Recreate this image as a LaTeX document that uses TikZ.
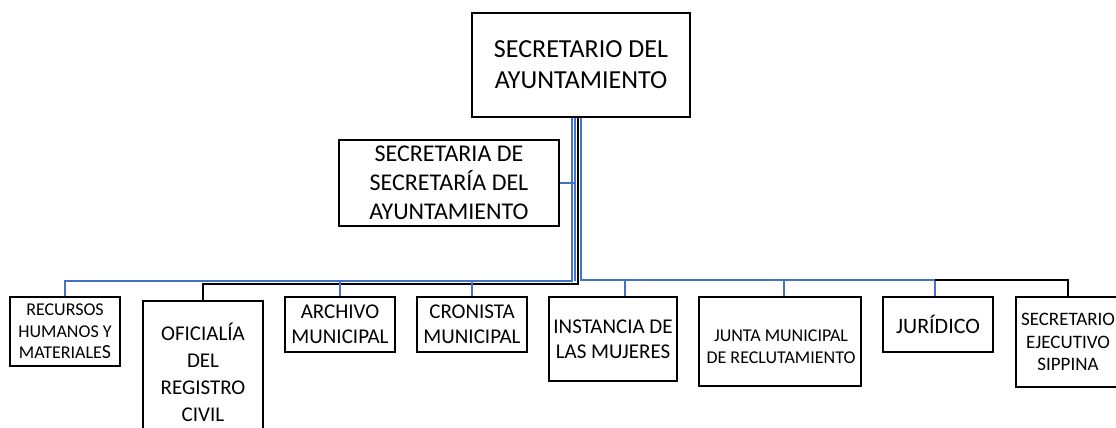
\documentclass[tikz,border=0pt]{standalone}
\usepackage{fontspec}
\setmainfont{Carlito}
\definecolor{linkblue}{HTML}{4472C4}
\tikzset{
  box/.style={draw, line width=2pt, align=center, inner sep=0pt},
  bluelink/.style={draw=linkblue, line width=1.5pt},
  blacklink/.style={draw=black, line width=2pt},
}
\newcommand{\fs}[1]{\fontsize{#1}{1.2\dimexpr#1pt\relax}\selectfont}
\begin{document}
\begin{tikzpicture}[x=1pt,y=-1pt]
  \useasboundingbox (0,0) rectangle (1116,428);
  \clip (0,0) rectangle (1116,428);

  \node[box, minimum width=218pt, minimum height=104pt, font=\fs{26}] (top) at (581,65) {SECRETARIO DEL\\AYUNTAMIENTO};
  \node[box, minimum width=220pt, minimum height=86pt, font=\fs{24}] (sec) at (449,183) {SECRETARIA DE\\SECRETARÍA DEL\\AYUNTAMIENTO};

  \node[box, minimum width=110pt, minimum height=69pt, font=\fs{18}] (rh) at (65,331.5) {RECURSOS\\HUMANOS Y\\MATERIALE{\fs{20}S}};
  \node[box, minimum width=120pt, minimum height=142pt, font=\fontsize{21}{27}\selectfont] (ofi) at (203,372) {OFICIALÍA\\DEL\\REGISTRO\\CIVIL};
  \node[box, minimum width=110pt, minimum height=55pt, font=\fs{21}] (arch) at (340,324.5) {ARCHIVO\\MUNICIPAL};
  \node[box, minimum width=110pt, minimum height=55pt, font=\fs{21}] (cron) at (472,324.5) {CRONISTA\\MUNICIPAL};
  \node[box, minimum width=128pt, minimum height=84pt, font=\fs{21}] (inst) at (613,339) {INSTANCIA DE\\LAS MUJERES};
  \node[box, minimum width=162pt, minimum height=89pt, text height=0pt, text depth=0pt] (junta) at (780,341.5) {};
  \node[align=center, inner sep=0pt, font=\fs{18}] (juntatext) at (781,347) {JUNTA MUNICIPAL\\DE RECLUTAMIENTO};
  \node[box, minimum width=110pt, minimum height=55pt, font=\fs{22}] (jur) at (938,324.5) {JURÍDICO};
  \node[box, minimum width=104pt, minimum height=90pt, font=\fs{19}] (sej) at (1068,342) {SECRETARIO\\EJECUTIVO\\SIPPINA};

  % bus corners and stubs
  \coordinate (bl) at (572,281);
  \coordinate (bl2) at (575,281);
  \coordinate (kl) at (578,284);
  \coordinate (br) at (581,280);
  \coordinate (bend) at (935,280);
  \coordinate (sinst) at (625,280);
  \coordinate (sjunta) at (784,280);

  \draw[bluelink] (top.south -| bl) -- (bl) -- (bl -| rh) -- (rh.north);
  \draw[bluelink] (top.south -| bl2) -- (bl2);
  \draw[blacklink] (top.south -| kl) -- (kl) -- (kl -| ofi) -- (ofi.north);
  \draw[bluelink] (top.south -| br) -- (br) -- (bend) -- (bend |- jur.north);
  \draw[blacklink] (bend) -- (bend -| sej) -- (sej.north);
  \draw[bluelink] (sec.east) -- (sec.east -| bl2);

  \draw[bluelink] (arch.north |- bl) -- (arch.north);
  \draw[bluelink] (cron.north |- bl) -- (cron.north);
  \draw[bluelink] (sinst) -- (sinst |- inst.north);
  \draw[bluelink] (sjunta) -- (sjunta |- junta.north);

\end{tikzpicture}
\end{document}
